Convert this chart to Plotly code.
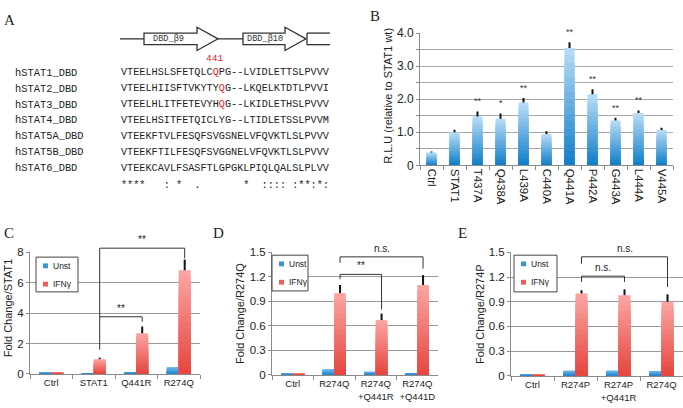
import plotly.graph_objects as go

# ---------------- data ----------------
seq_names = ["hSTAT1_DBD", "hSTAT2_DBD", "hSTAT3_DBD", "hSTAT4_DBD",
             "hSTAT5A_DBD", "hSTAT5B_DBD", "hSTAT6_DBD"]
seq_rows = ["VTEELHSLSFETQLCQPG--LVIDLETTSLPVVV",
            "VTEELHIISFTVKYTYQG--LKQELKTDTLPVVI",
            "VTEELHLITFETEVYHQG--LKIDLETHSLPVVV",
            "VTEELHSITFETQICLYG--LTIDLETSSLPVVM",
            "VTEEKFTVLFESQFSVGSNELVFQVKTLSLPVVV",
            "VTEEKFTILFESQFSVGGNELVFQVKTLSLPVVV",
            "VTEEKCAVLFSASFTLGPGKLPIQLQALSLPLVV"]
seq_highlight = [15, 16, 16, None, None, None, None]
seq_consensus = "****   : *  .       *  :::: :**:*:"
highlight_label = "441"
strand_labels = ["DBD_β9", "DBD_β10"]

b_categories = ["Ctrl", "STAT1", "T437A", "Q438A", "L439A", "C440A",
                "Q441A", "P442A", "G443A", "L444A", "V445A"]
b_values = [0.39, 1.0, 1.48, 1.41, 1.9, 0.95, 3.55, 2.15, 1.36, 1.58, 1.07]
b_errors = [0.03, 0.08, 0.15, 0.16, 0.14, 0.08, 0.17, 0.15, 0.08, 0.08, 0.07]
b_signif = ["", "", "**", "*", "**", "", "**", "**", "**", "**", ""]
b_ticks = [0, 0.5, 1, 1.5, 2, 2.5, 3, 3.5, 4]
b_ticktext = ["0", "", "1.0", "", "2.0", "", "3.0", "", "4.0"]

series_names = ["Unst", "IFNγ"]

c_categories = ["Ctrl", "STAT1", "Q441R", "R274Q"]
c_unst = [0.08, 0.01, 0.13, 0.45]
c_ifn = [0.10, 0.97, 2.68, 6.82]
c_ifn_err = [0.0, 0.10, 0.44, 0.70]
c_ticks = [0, 2, 4, 6, 8]
c_ticktext = ["0", "2", "4", "6", "8"]

d_categories = ["Ctrl", "R274Q", "R274Q<br>+Q441R", "R274Q<br>+Q441D"]
d_unst = [0.015, 0.07, 0.04, 0.025]
d_ifn = [0.015, 1.0, 0.67, 1.10]
d_ifn_err = [0.0, 0.10, 0.08, 0.12]

e_categories = ["Ctrl", "R274P", "R274P<br>+Q441R", "R274Q"]
e_unst = [0.015, 0.065, 0.065, 0.06]
e_ifn = [0.015, 1.0, 0.98, 0.90]
e_ifn_err = [0.0, 0.04, 0.07, 0.09]

de_ticks = [0, 0.3, 0.6, 0.9, 1.2, 1.5]
de_ticktext = ["0", "0.3", "0.6", "0.9", "1.2", "1.5"]

# ---------------- helpers ----------------
W, H = 683, 408
def fx(x): return x / W
def fy(y): return 1 - y / H

def hex2rgb(h):
    h = h.lstrip("#")
    return [int(h[i:i + 2], 16) for i in (0, 2, 4)]

def blend(c1, c2, t):
    a, b = hex2rgb(c1), hex2rgb(c2)
    return "rgb(%d,%d,%d)" % tuple(round(a[i] + (b[i] - a[i]) * t) for i in range(3))

SANS = "Liberation Sans, Arial, sans-serif"
MONO = "Liberation Mono, Courier New, monospace"
SERIF = "Liberation Serif, Times New Roman, serif"
TXT = "#222222"
K = 16

fig = go.Figure()

def gradient_bars(xa, ya, cats, vals, errs, top, bottom, offset, width):
    n = len(cats)
    for k in range(K):
        f = (K - k) / K
        t = k / (K - 1)
        eb = None
        if k == 0 and errs is not None:
            eb = dict(type="data", array=errs, arrayminus=[0] * n, symmetric=False,
                      color="#111111", thickness=2, width=0, visible=True)
        fig.add_trace(go.Bar(
            x=cats, y=[v * f for v in vals], offset=offset, width=width,
            marker=dict(color=blend(top, bottom, t), line=dict(width=0)),
            error_y=eb, xaxis=xa, yaxis=ya, showlegend=False, hoverinfo="skip"))

# Panel B
gradient_bars("x", "y", b_categories, b_values, b_errors, "#b4daf5", "#1280c9", -0.215, 0.43)
# Panels C, D, E
UNST_TOP, UNST_BOT = "#6ab8ec", "#2887cf"
IFN_TOP, IFN_BOT = "#fba3a0", "#e64841"
for xa, ya, cats, un, ifn, err in [("x2", "y2", c_categories, c_unst, c_ifn, c_ifn_err),
                                   ("x3", "y3", d_categories, d_unst, d_ifn, d_ifn_err),
                                   ("x4", "y4", e_categories, e_unst, e_ifn, e_ifn_err)]:
    gradient_bars(xa, ya, cats, un, None, UNST_TOP, UNST_BOT, -0.28, 0.28)
    gradient_bars(xa, ya, cats, ifn, err, IFN_TOP, IFN_BOT, 0.0, 0.28)

shapes = []
annotations = []

def line(x0, y0, x1, y1, color="#333333", width=1, xref="paper", yref="paper"):
    shapes.append(dict(type="line", x0=x0, y0=y0, x1=x1, y1=y1, xref=xref, yref=yref,
                       line=dict(color=color, width=width)))

def text(x, y, s, size, family=SANS, color=TXT, xanchor="center", yanchor="middle",
         angle=0, xref="paper", yref="paper", yshift=0):
    annotations.append(dict(x=x, y=y, text=s, xref=xref, yref=yref, showarrow=False,
                            xanchor=xanchor, yanchor=yanchor, textangle=angle, yshift=yshift,
                            font=dict(size=size, family=family, color=color)))

# ---------------- Panel A ----------------
AC = "#333333"
line(fx(120), fy(33), fx(144), fy(33), AC, 1.3)
line(fx(218), fy(33), fx(243), fy(33), AC, 1.3)
def arrow(x0, xb, xt):
    p = "M %f %f L %f %f L %f %f L %f %f L %f %f L %f %f L %f %f Z" % (
        fx(x0), fy(27), fx(xb), fy(27), fx(xb), fy(21), fx(xt), fy(33),
        fx(xb), fy(45), fx(xb), fy(39), fx(x0), fy(39))
    shapes.append(dict(type="path", path=p, xref="paper", yref="paper",
                       fillcolor="white", line=dict(color=AC, width=1.3)))
arrow(144, 197, 218)
arrow(243, 285, 306)
line(fx(307), fy(27), fx(307), fy(39), AC, 1.3)
line(fx(307), fy(27), fx(330), fy(27), AC, 1.3)
line(fx(307), fy(39), fx(330), fy(39), AC, 1.3)
text(fx(168), fy(33), strand_labels[0], 8.6, MONO, "#333333")
text(fx(265), fy(33), strand_labels[1], 8.6, MONO, "#333333")
text(fx(214), fy(53), highlight_label, 9.5, MONO, "#e8231f")

row_y = [68, 84.5, 101, 117.5, 134, 150.5, 167]
for i, (nm, sq, hp) in enumerate(zip(seq_names, seq_rows, seq_highlight)):
    text(fx(13), fy(row_y[i]), nm, 10.4, MONO, TXT, xanchor="left")
    if hp is not None:
        s = sq[:hp] + '<span style="color:#e8231f">' + sq[hp] + '</span>' + sq[hp + 1:]
    else:
        s = sq
    text(fx(119), fy(row_y[i]), s, 10.2, MONO, TXT, xanchor="left")
text(fx(119), fy(185), seq_consensus.replace(" ", "\u00a0"), 10.2, MONO, TXT, xanchor="left")

# ---------------- panel letters ----------------
for L, x, y in [("A", 9, 13), ("B", 375, 9), ("C", 9, 234), ("D", 218, 234), ("E", 462, 234)]:
    text(fx(x), fy(y), L, 15, SERIF, TXT)

# ---------------- axis titles ----------------
text(fx(388), fy(92), "R.L.U (relative to STAT1 wt)", 11, SANS, TXT, angle=-90)
text(fx(8), fy(312), "Fold Change/STAT1", 11, SANS, TXT, angle=-90)
text(fx(240), fy(318), "Fold Change/R274Q", 11, SANS, TXT, angle=-90)
text(fx(480), fy(318), "Fold Change/R274P", 11, SANS, TXT, angle=-90)

# ---------------- significance in B ----------------
for c, v, e, s in zip(b_categories, b_values, b_errors, b_signif):
    if s:
        text(c, v + e, s, 9, SANS, "#333333", yanchor="bottom", xref="x", yref="y", yshift=3)

# ---------------- brackets ----------------
def bracket(ax, n, ymax, i0, i1, y_top, y_left, y_right, label, off=0.14):
    xr, yr = ax[0] + " domain", ax[1] + " domain"
    x0 = (i0 + off + 0.5) / n
    x1 = (i1 + off + 0.5) / n
    line(x0, y_left / ymax, x0, y_top / ymax, "#333333", 1, xr, yr)
    line(x0, y_top / ymax, x1, y_top / ymax, "#333333", 1, xr, yr)
    line(x1, y_top / ymax, x1, y_right / ymax, "#333333", 1, xr, yr)
    text((x0 + x1) / 2, y_top / ymax, label, 10, SANS, TXT, yanchor="bottom",
         xref=xr, yref=yr, yshift=1)

bracket(("x2", "y2"), 4, 8, 1, 3, 8.27, 1.6, 7.6, "**")
bracket(("x2", "y2"), 4, 8, 1, 2, 3.76, 3.76, 3.44, "**")
bracket(("x3", "y3"), 4, 1.5, 1, 3, 1.444, 1.37, 1.30, "n.s.")
bracket(("x3", "y3"), 4, 1.5, 1, 2, 1.23, 1.17, 0.80, "**")
bracket(("x4", "y4"), 4, 1.5, 1, 3, 1.445, 1.36, 1.08, "n.s.")
bracket(("x4", "y4"), 4, 1.5, 1, 2, 1.21, 1.14, 1.14, "n.s.")

# ---------------- manual legends ----------------
for (bx0, by0, bx1, by1) in [(36, 259, 78, 295), (272, 257, 308, 294), (514, 257, 557, 295)]:
    shapes.append(dict(type="rect", x0=fx(bx0), y0=fy(by1), x1=fx(bx1), y1=fy(by0),
                       xref="paper", yref="paper", fillcolor="white",
                       line=dict(color="#444444", width=1)))
    for j, (nm, col) in enumerate(zip(series_names, ["#3596d8", "#ef5f58"])):
        yy = by0 + 9 + j * 19
        shapes.append(dict(type="rect", x0=fx(bx0 + 7), x1=fx(bx0 + 12),
                           y0=fy(yy + 2.5), y1=fy(yy - 2.5), xref="paper", yref="paper",
                           fillcolor=col, line=dict(width=0)))
        text(fx(bx0 + 15), fy(yy), nm, 8.5, SANS, TXT, xanchor="left")

# ---------------- axes ----------------
GRID = "#9a9a9a"
AXL = "#8a8a8a"
def xax(domain, cats, angle=0, size=9.5):
    return dict(domain=domain, type="category", categoryorder="array", categoryarray=cats,
                range=[-0.5, len(cats) - 0.5], showline=True, linecolor=AXL, linewidth=1,
                ticks="outside", tickson="boundaries", ticklen=4, tickcolor=AXL,
                tickangle=angle, showgrid=False, zeroline=False, fixedrange=True,
                tickfont=dict(family=SANS, size=size, color=TXT))
def yax(domain, rng, tv, tt, anchor, size=11.5, grid=GRID):
    return dict(domain=domain, range=rng, tickvals=tv, ticktext=tt, anchor=anchor,
                showline=True, linecolor=AXL, linewidth=1, ticks="outside", ticklen=3,
                tickcolor=AXL, showgrid=True, gridcolor=grid, gridwidth=1,
                zeroline=False, fixedrange=True,
                tickfont=dict(family=SANS, size=size, color=TXT))

fig.update_layout(
    width=W, height=H, autosize=False, margin=dict(l=0, r=0, t=0, b=0),
    paper_bgcolor="white", plot_bgcolor="white", barmode="overlay", showlegend=False,
    xaxis=xax([fx(420), fx(673)], b_categories, angle=90, size=11.5) | dict(anchor="y"),
    yaxis=yax([fy(164), fy(27)], [0, 4], b_ticks, b_ticktext, "x", 12, "#a8a8a8"),
    xaxis2=xax([fx(30), fx(200)], c_categories) | dict(anchor="y2"),
    yaxis2=yax([fy(380), fy(254)], [0, 8], c_ticks, c_ticktext, "x2"),
    xaxis3=xax([fx(272), fx(438)], d_categories) | dict(anchor="y3"),
    yaxis3=yax([fy(381), fy(254)], [0, 1.5], de_ticks, de_ticktext, "x3"),
    xaxis4=xax([fx(511), fx(683)], e_categories) | dict(anchor="y4"),
    yaxis4=yax([fy(382), fy(254)], [0, 1.5], de_ticks, de_ticktext, "x4"),
    shapes=shapes, annotations=annotations,
)

fig.write_html("out.html", config={"displayModeBar": False},
               post_script="document.body.style.margin='0';")
